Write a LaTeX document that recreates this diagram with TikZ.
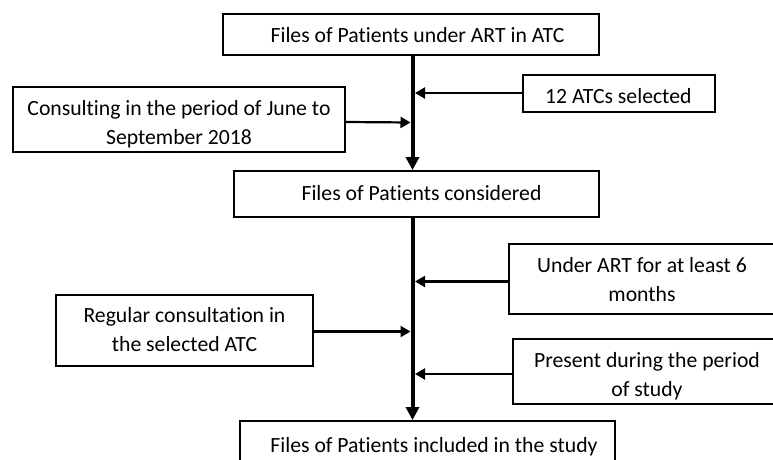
\documentclass[tikz,border=0pt]{standalone}
\usepackage{fontspec}
\setmainfont[Ligatures={NoCommon}]{Carlito}
\usetikzlibrary{arrows.meta}
\begin{document}
\begin{tikzpicture}[x=1pt,y=-1pt,
  box/.style={draw, line width=1.9pt, inner sep=0pt},
  txt/.style={font=\fontsize{21.7}{29}\selectfont, align=center, inner sep=0pt},
  spine/.style={line width=4pt, -{Triangle[length=13pt,width=13pt]}},
  feed/.style={line width=2.2pt, -{Triangle[length=10pt,width=11pt]}}]
\useasboundingbox (0,0) rectangle (773,460);
% boxes
\node[box, minimum width=376pt, minimum height=41pt] (top) at (411,34.5) {};
\node[txt, anchor=base] (top-t) at (417.5,42.7) {Files of Patients under ART in ATC};
\node[box, minimum width=192pt, minimum height=37pt] (atc) at (619,93.5) {};
\node[txt, anchor=base] (atc-t) at (618.3,103) {12 ATCs selected};
\node[box, minimum width=332pt, minimum height=65pt] (cons) at (179,119.5) {};
\node[txt] (cons-t) at (179,124) {Consulting in the period of June to\\September 2018};
\node[box, minimum width=365pt, minimum height=46pt] (mid) at (416.5,194) {};
\node[txt, anchor=base] (mid-t) at (421.5,200.7) {Files of Patients considered};
\node[box, minimum width=266pt, minimum height=70pt] (under) at (642,279) {};
\node[txt] (under-t) at (642,279.5) {Under ART for at least 6\\months};
\node[box, minimum width=257pt, minimum height=71pt] (reg) at (184.5,330.5) {};
\node[txt] (reg-t) at (184.5,329.5) {Regular consultation in\\the selected ATC};
\node[box, minimum width=268pt, minimum height=65pt] (pres) at (647,371.5) {};
\node[txt] (pres-t) at (647,376) {Present during the period\\of study};
\node[box, minimum width=375pt, minimum height=45pt] (bot) at (427.5,443.5) {};
\node[txt, anchor=base] (bot-t) at (434,452) {Files of Patients included in the study};
% spine
\coordinate (sp) at (412.5,0);
\draw[spine] (top.south -| sp) -- (mid.north -| sp);
\draw[spine] (mid.south -| sp) -- (bot.north -| sp);
% feeders
\coordinate (a1) at (415,93);
\coordinate (a2) at (410.5,122.5);
\coordinate (a3) at (415,281.5);
\coordinate (a4) at (410.5,331.5);
\coordinate (a5) at (415,374);
\draw[feed] (atc.west |- a1) -- (a1);
\draw[feed] (cons.east |- 0,122) -- (a2);
\draw[feed] (under.west |- a3) -- (a3);
\draw[feed] (reg.east |- a4) -- (a4);
\draw[feed] (pres.west |- a5) -- (a5);
\end{tikzpicture}
\end{document}
